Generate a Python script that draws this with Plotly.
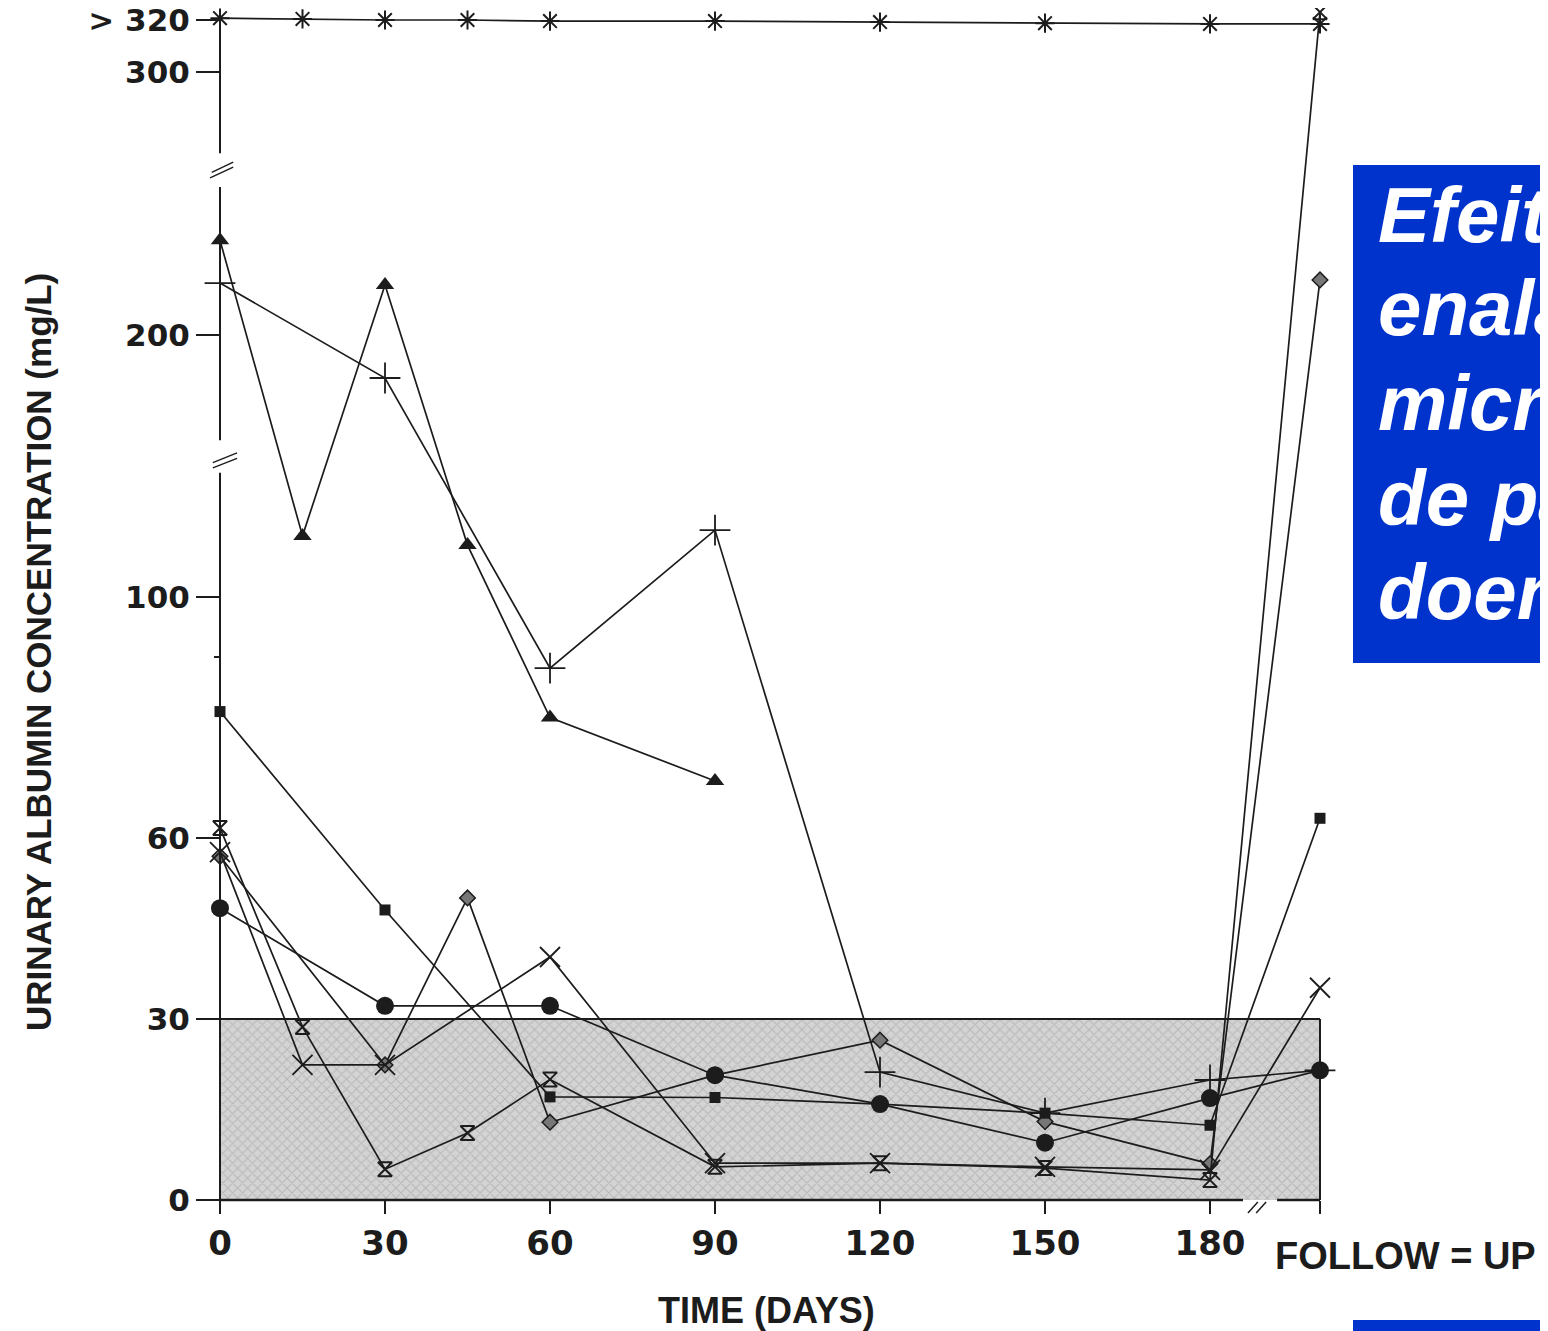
import plotly.graph_objects as go

# ---------------- data ----------------
FU = 200  # position of the follow-up visit on the day axis

days_asterisk = [0, 15, 30, 45, 60, 90, 120, 150, 180, FU]
alb_asterisk = [320.7, 320.4, 320.0, 320.0, 319.6, 319.6, 319.2, 318.8, 318.5, 318.5]

days_triangle = [0, 15, 30, 45, 60, 90]
alb_triangle = [236, 123.3, 219, 119.8, 80, 69.5]

days_plus = [0, 30, 60, 90, 120, 150, 180, FU]
alb_plus = [219.7, 183.5, 88.2, 125.5, 21.2, 14.4, 19.9, 21.5]

days_square = [0, 30, 60, 90, 120, 150, 180, FU]
alb_square = [81, 48.1, 17.1, 17.0, 15.9, 14.4, 12.4, 63.3]

days_circle = [0, 30, 60, 90, 120, 150, 180, FU]
alb_circle = [48.4, 32.2, 32.2, 20.7, 15.9, 9.5, 16.9, 21.5]

days_diamond = [0, 30, 45, 60, 90, 120, 150, 180, FU]
alb_diamond = [57, 22.4, 50.1, 12.9, 20.7, 26.5, 13, 6, 220.9]

days_hourglass = [0, 15, 30, 45, 60, 90, 120, 150, 180, FU]
alb_hourglass = [61.7, 28.7, 5.1, 11.1, 20, 5.5, 6.1, 5.3, 3.3, 323]

days_x = [0, 15, 30, 60, 90, 120, 150, 180, FU]
alb_x = [57.7, 22.4, 22.4, 40.3, 6.1, 6.1, 5.5, 5.0, 35.2]

x_tick_vals = [0, 30, 60, 90, 120, 150, 180, FU]
x_tick_text = ["0", "30", "60", "90", "120", "150", "180", ""]
y_tick_vals = [0, 30, 60, 100, 200, 300, 320]
y_tick_text = ["0", "30", "60", "100", "200", "300", "&gt; 320"]
NORMAL_RANGE = [0, 30]

box_lines = ["Efeit", "enala", "micr", "de pa", "doen"]

# ---------------- broken y scale ----------------
K = 2.6227 / 6.03  # compression of the part above 100 mg/L


def brk(v):
    return v if v <= 100 else 100 + (v - 100) * K


def brks(vals):
    return [brk(v) for v in vals]


# ---------------- geometry ----------------
PAGE_OFF = 8            # default body margin of the html page
FIG_W, FIG_H = 1548 - PAGE_OFF, 1331 - PAGE_OFF
PX_DAY, PX_UNIT = 5.5, 6.03
X0_PAGE, Y0_PAGE = 220, 1200   # page pixel of day 0 / albumin 0
ML, MR, MT, MB = 190, 206, 2, 113
plot_w = FIG_W - ML - MR
plot_h = FIG_H - MT - MB
x0_fig, y0_fig = X0_PAGE - PAGE_OFF, Y0_PAGE - PAGE_OFF
x_range = [(ML - x0_fig) / PX_DAY, (ML + plot_w - x0_fig) / PX_DAY]
y_range = [-(MT + plot_h - y0_fig) / PX_UNIT, (y0_fig - MT) / PX_UNIT]


def paper_x(page_px):
    return (page_px - PAGE_OFF - ML) / plot_w


def paper_y(page_py):
    return (MT + plot_h - (page_py - PAGE_OFF)) / plot_h


Y_TOP = brk(320)
INK = "#1c1c1c"

fig = go.Figure()

# shaded normal range
fig.add_trace(go.Scatter(
    x=[0, FU, FU, 0, 0],
    y=[NORMAL_RANGE[0], NORMAL_RANGE[0], NORMAL_RANGE[1], NORMAL_RANGE[1], NORMAL_RANGE[0]],
    mode="lines", fill="toself", line=dict(width=0),
    fillcolor="#d4d4d4",
    fillpattern=dict(shape="x", fgcolor="#9a9a9a", size=7, solidity=0.28),
    hoverinfo="skip",
))

series = [
    (days_asterisk, alb_asterisk, dict(symbol="asterisk-open", size=16, color=INK, line=dict(width=2, color=INK))),
    (days_triangle, alb_triangle, dict(symbol="triangle-up", size=16, color=INK)),
    (days_plus, alb_plus, dict(symbol="cross-thin-open", size=22, color=INK, line=dict(width=1.8, color=INK))),
    (days_diamond, alb_diamond, dict(symbol="diamond", size=12, color="#777777", line=dict(width=1.5, color=INK))),
    (days_square, alb_square, dict(symbol="square", size=11, color=INK)),
    (days_circle, alb_circle, dict(symbol="circle", size=18, color=INK)),
    (days_hourglass, alb_hourglass, dict(symbol="hourglass-open", size=14, color=INK, line=dict(width=2, color=INK))),
    (days_x, alb_x, dict(symbol="x-thin-open", size=20, color=INK, line=dict(width=1.8, color=INK))),
]
for d, v, mk in series:
    fig.add_trace(go.Scatter(x=d, y=brks(v), mode="lines+markers",
                             line=dict(color=INK, width=1.7), marker=mk,
                             cliponaxis=False))

shapes = []
# border of the shaded range (top and right)
shapes.append(dict(type="line", xref="x", yref="y", x0=0, x1=FU, y0=NORMAL_RANGE[1], y1=NORMAL_RANGE[1],
                   line=dict(color=INK, width=2)))
shapes.append(dict(type="line", xref="x", yref="y", x0=FU, x1=FU, y0=0, y1=NORMAL_RANGE[1],
                   line=dict(color=INK, width=2)))
# x axis line with break before follow-up
shapes.append(dict(type="line", xref="x", yref="y", x0=0, x1=186, y0=0, y1=0, line=dict(color=INK, width=2.5)))
shapes.append(dict(type="line", xref="x", yref="y", x0=192.2, x1=FU, y0=0, y1=0, line=dict(color=INK, width=2.5)))
shapes.append(dict(type="line", xref="x", yref="y", x0=186.9, x1=188.7, y0=-2.16, y1=-0.33, line=dict(color=INK, width=1.5)))
shapes.append(dict(type="line", xref="x", yref="y", x0=188.4, x1=190.2, y0=-2.16, y1=-0.33, line=dict(color=INK, width=1.5)))
# y axis line with two breaks
for a, b in [(0, 120.6), (126.0, 168.0), (173.6, Y_TOP)]:
    shapes.append(dict(type="line", xref="x", yref="y", x0=0, x1=0, y0=a, y1=b, line=dict(color=INK, width=2)))
for (xa, ya, xb, yb) in [(-1.8, 169.5, 2.4, 171.3), (-1.5, 170.4, 2.4, 172.1),
                         (-1.3, 121.4, 3.1, 123.0), (-1.3, 122.3, 3.1, 123.9)]:
    shapes.append(dict(type="line", xref="x", yref="y", x0=xa, x1=xb, y0=ya, y1=yb, line=dict(color=INK, width=1.4)))
# blue box and bottom blue bar
shapes.append(dict(type="rect", xref="paper", yref="paper", x0=paper_x(1353), x1=paper_x(1560),
                   y0=paper_y(663), y1=paper_y(165), fillcolor="#0033CC", line=dict(width=0), layer="above"))
shapes.append(dict(type="rect", xref="paper", yref="paper", x0=paper_x(1353), x1=paper_x(1560),
                   y0=paper_y(1335), y1=paper_y(1320), fillcolor="#0033CC", line=dict(width=0), layer="above"))

annotations = [
    dict(text="URINARY ALBUMIN CONCENTRATION (mg/L)", xref="paper", yref="paper",
         x=paper_x(38), y=paper_y(652), textangle=-90, showarrow=False,
         xanchor="center", yanchor="middle",
         font=dict(family="Liberation Sans", size=35, color=INK, weight="bold")),
    dict(text="TIME (DAYS)", xref="paper", yref="paper", x=paper_x(766), y=paper_y(1310),
         showarrow=False, xanchor="center", yanchor="middle",
         font=dict(family="Liberation Sans", size=36, color=INK, weight="bold")),
    dict(text="FOLLOW = UP", xref="paper", yref="paper", x=paper_x(1273), y=paper_y(1256),
         showarrow=False, xanchor="left", yanchor="middle",
         font=dict(family="Liberation Sans", size=38, color=INK, weight="bold")),
]
line_center_px = [215, 308, 403, 498, 592]
for t, py in zip(box_lines, line_center_px):
    annotations.append(dict(text=t, xref="paper", yref="paper", x=paper_x(1376), y=paper_y(py),
                            showarrow=False, xanchor="left", yanchor="middle",
                            font=dict(family="Liberation Sans", size=78, color="white",
                                      weight="bold", style="italic")))

fig.update_layout(
    width=FIG_W, height=FIG_H, autosize=False,
    margin=dict(l=ML, r=MR, t=MT, b=MB, pad=0),
    paper_bgcolor="white", plot_bgcolor="white",
    showlegend=False,
    shapes=shapes, annotations=annotations,
    xaxis=dict(range=x_range, showgrid=False, zeroline=False, showline=False, automargin=False,
               anchor="free", position=(0 - y_range[0]) / (y_range[1] - y_range[0]),
               tickmode="array", tickvals=x_tick_vals, ticktext=x_tick_text,
               ticks="outside", ticklen=13, tickwidth=2, tickcolor=INK,
               ticklabeloverflow="allow",
               tickfont=dict(family="DejaVu Sans", size=34, color=INK, weight="bold")),
    yaxis=dict(range=y_range, showgrid=False, zeroline=False, showline=False, automargin=False,
               anchor="free", position=(0 - x_range[0]) / (x_range[1] - x_range[0]),
               tickmode="array", tickvals=brks(y_tick_vals), ticktext=y_tick_text,
               ticks="outside", ticklen=24, tickwidth=2, tickcolor=INK,
               ticklabeloverflow="allow",
               tickfont=dict(family="DejaVu Sans", size=31, color=INK, weight="bold"),
               minor=dict(tickvals=[90], ticks="outside", ticklen=6, tickwidth=1.5, tickcolor=INK)),
)

fig.write_html("out.html")
